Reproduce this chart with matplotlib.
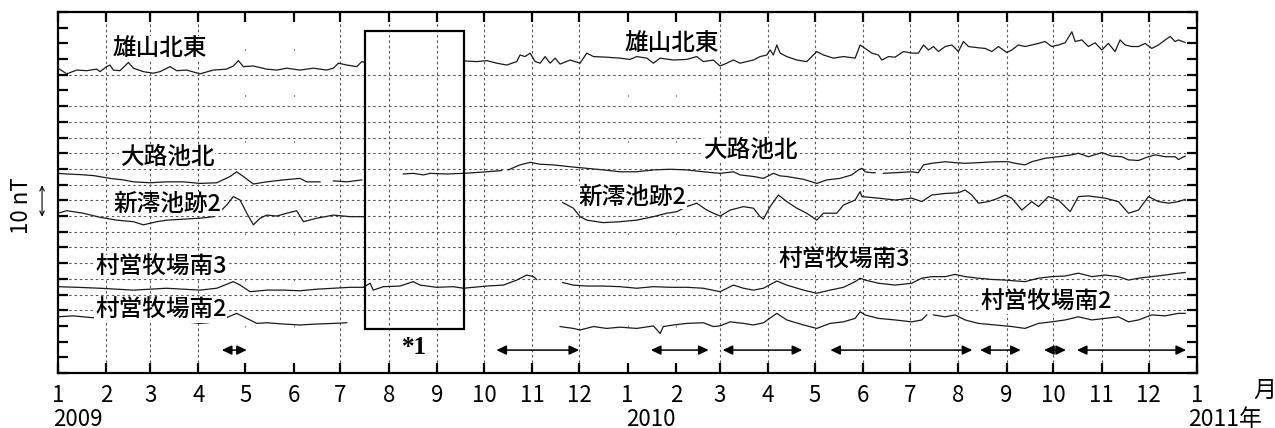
import matplotlib
matplotlib.use("Agg")
import matplotlib.pyplot as plt
import matplotlib.dates as mdates
import matplotlib.transforms as mtransforms
import numpy as np
from datetime import datetime

plt.rcParams["font.family"] = ["Noto Sans CJK JP", "DejaVu Sans"]

# ---------------------------------------------------------------------------
# Total magnetic field records (nT, plotted with a per-station offset).
# Each entry is (days since 2009-01-01, value); None marks a gap in the record.
# ---------------------------------------------------------------------------
START = datetime(2009, 1, 1)

OYAMA_NE = [  # 雄山北東
    (0, 97.1), (5.6, 95.3), (12, 96.5), (18.4, 96.3), (24.8, 96.8), (26.9, 96.0),
    (31.2, 97.6), (33.3, 98.1), (35.5, 96.5), (39.7, 96.3), (45.1, 98.9), (48.3, 97.1),
    (54.7, 96.0), (61.1, 95.5), (65.4, 96.0), (71.8, 97.6), (76.1, 96.3), (82.5, 96.5),
    (91, 95.3), (99.5, 96.5), (108, 96.8), (112.4, 97.8), (115.6, 99.5), (118.8, 97.6),
    (125.2, 97.8), (133.8, 96.8), (140.2, 96.5), (146.6, 97.1), (155.1, 96.5), (163.7, 97.1),
    (172.2, 96.5), (176.5, 97.1), (179.7, 98.7), (185.1, 98.1), (191.5, 97.6), (194.7, 99.2),
    (196.8, 98.9),
    None,
    (260.9, 99.4), (268.4, 99.2), (274.8, 99.5), (281.2, 98.7), (287.6, 98.1), (294, 99.2),
    (296.1, 101.3), (299.3, 100.8), (302.6, 101.9), (305.8, 99.2), (309, 98.7), (312.2, 100.8),
    (315.4, 98.7), (318.6, 100.3), (321.8, 98.4), (328.2, 99.7), (334.6, 98.7), (338.9, 101.9),
    (343.2, 100.8), (351.7, 100.6), (360.2, 100.3), (366.6, 99.9), (370.9, 100.8), (377.4, 100.3),
    (381.6, 98.7), (385.9, 100.3), (394.4, 99.7), (403, 99.9), (409.4, 100.8), (413.6, 99.2),
    (420, 99.7), (424.3, 97.8), (428.6, 98.7), (432.9, 99.7), (437.2, 98.7), (445.7, 99.7),
    (450, 100.8), (454.3, 101.3), (456.4, 102.9), (458.5, 101.3), (460.7, 104.5), (462.8, 101.9),
    (467.1, 100.8), (473.5, 99.7), (479.9, 99.2), (486.3, 102.4), (490.6, 101.3), (497, 100.3),
    (503.4, 100.8), (510.9, 100.3), (514.1, 104.5), (517.3, 103.4), (521.6, 101.9), (525.8, 101.3),
    (528, 99.7), (532.3, 100.8), (536.5, 100.6), (541.8, 102.4), (547.2, 101.9), (551.4, 101.9),
    (554.7, 104.5), (557.9, 102.9), (561.1, 104.0), (564.3, 102.4), (568.6, 104.0), (572.9, 104.5),
    (577.1, 102.4), (580.3, 105.6), (583.5, 104.0), (589.9, 103.6), (594.2, 103.4), (598.5, 102.4),
    (602.7, 104.0), (608.1, 102.1), (611.3, 102.9), (615.5, 104.5), (619.8, 104.0), (624.1, 104.5),
    (628.4, 105.0), (632.6, 105.6), (636.9, 104.0), (641.2, 104.5), (645.5, 105.2), (649.8, 108.7),
    (651.9, 105.6), (656.2, 106.1), (660.4, 104.0), (664.7, 105.2), (669, 102.9), (673.2, 105.0),
    (677.5, 102.4), (680.7, 106.1), (683.9, 104.5), (688.2, 104.0), (692.5, 104.0), (696.8, 105.0),
    (701, 103.4), (705.3, 104.5), (709.6, 106.1), (712.8, 107.2), (716, 105.6), (718.1, 106.1),
    (722.4, 105.3),
]

OROIKE_N = [  # 大路池北
    (0, 63.6), (5.6, 63.4), (14.1, 63.2), (22.6, 62.9), (33.3, 62.0), (41.9, 61.5),
    (48.3, 60.9), (59, 60.6), (69.7, 60.9), (80.3, 60.9), (91, 60.4), (101.7, 60.6),
    (110.3, 62.6), (114.5, 64.1), (118.8, 62.6), (125.2, 60.2), (133.8, 60.9), (144.4, 61.5),
    (155.1, 62.0), (159.4, 60.9), (168, 60.9),
    None,
    (176.5, 61.2), (185.1, 60.9), (194.7, 61.5),
    None,
    (221.3, 63.4), (227.7, 63.6), (234.2, 63.1), (238.5, 63.6), (249.2, 63.4), (259.8, 63.6),
    (266.2, 63.8), (274.8, 64.1), (284.4, 64.5),
    None,
    (288.6, 64.7), (296.1, 66.3), (302.6, 67.1), (309, 66.5), (317.5, 66.3), (328.2, 65.7),
    (338.9, 65.2), (349.5, 64.7), (360.2, 64.1), (370.9, 64.1), (381.6, 64.7), (392.3, 64.9),
    (403, 64.7), (413.6, 64.1), (424.3, 63.6), (432.9, 64.1), (437.2, 63.1), (445.7, 62.6),
    (452.1, 62.0), (458.5, 63.6), (462.8, 62.8), (467.1, 62.6), (477.8, 61.7), (486.3, 60.4),
    (492.7, 61.5), (501.3, 62.0), (508.7, 63.1), (513, 64.7), (515.2, 65.2), (517.3, 64.1),
    (521.6, 63.8), (523.7, 63.8),
    None,
    (529, 63.6), (536.5, 63.8), (547.2, 64.1), (551.4, 63.8), (554.7, 66.3), (560, 66.8),
    (568.6, 67.3), (575, 67.0), (581.4, 66.8), (589.9, 67.0), (600.6, 67.3), (609.1, 67.3),
    (613.4, 66.8), (619.8, 66.3), (624.1, 67.3), (632.6, 68.4), (641.2, 68.9), (649.8, 69.5),
    (654, 70.0), (660.4, 68.9), (669, 70.2), (675.4, 69.1), (681.8, 68.9), (686.1, 67.9),
    (692.5, 67.7), (698.9, 68.9), (703.2, 69.5), (709.6, 68.9), (716, 68.9), (718.1, 68.0),
    (722.4, 69.1),
]

SHINMIO_2 = [  # 新澪池跡2
    (0, 50.9), (5.6, 51.7), (16.2, 50.9), (26.9, 49.6), (37.6, 48.7), (48.3, 48.2),
    (54.7, 47.2), (63.3, 48.2), (69.7, 48.7), (80.3, 49.0), (91, 49.3), (99.5, 49.8),
    (103.8, 51.4), (108.1, 53.5), (112.4, 56.2), (116.7, 55.1), (121, 50.9), (125.2, 47.2),
    (129.5, 49.3), (133.8, 50.3), (140.2, 50.0), (146.6, 50.9), (153, 51.7), (157.3, 48.2),
    (165.8, 49.3), (176.5, 50.3), (187.2, 49.8), (196.8, 49.8),
    None,
    (323.5, 54.3), (330.3, 52.5), (334.6, 49.8), (338.9, 48.7), (349.5, 47.9), (360.2, 48.2),
    (370.9, 48.7), (381.6, 49.8), (390.2, 50.9), (396.6, 51.4), (403, 53.0), (409.4, 54.1),
    (415.8, 51.9), (420, 50.9), (424.3, 50.0), (430.8, 51.9), (439.3, 53.0), (445.7, 52.5),
    (450, 49.8), (452.1, 49.0), (456.4, 53.0), (461.7, 56.7), (467.1, 54.6), (473.5, 52.5),
    (479.9, 50.9), (486.3, 48.7), (490.6, 50.9), (499.1, 50.9), (503.4, 53.5), (510.9, 55.1),
    (514.1, 57.8), (515.2, 56.2), (525.8, 55.7), (536.5, 55.1), (547.2, 55.7), (553.6, 54.6),
    (560, 56.7), (568.6, 57.2), (577.1, 57.4), (581.4, 58.3), (585.7, 56.7), (589.9, 54.1),
    (596.3, 54.6), (602.7, 55.7), (607, 56.7), (611.3, 55.7), (617.7, 51.9), (624.1, 54.6),
    (628.4, 53.0), (634.8, 56.2), (641.2, 55.1), (648.7, 51.4), (654, 56.2), (660.4, 56.4),
    (671.1, 55.7), (679.6, 54.6), (686.1, 50.9), (692.5, 51.9), (698.9, 56.2), (705.3, 54.6),
    (711.7, 54.1), (718.1, 54.6), (722.4, 55.3),
]

MURAEI_S3 = [  # 村営牧場南3
    (0, 27.5), (12, 27.3), (26.9, 27.0), (48.3, 26.4), (69.7, 27.0), (91, 26.4),
    (101.7, 27.0), (112.4, 29.1), (116.7, 28.0), (123.1, 25.9), (133.8, 26.4), (144.4, 26.4),
    (155.1, 26.2), (165.8, 26.7), (176.5, 27.0), (187.2, 27.3), (195.7, 27.3), (200, 28.6),
    (202.1, 26.4), (208.5, 27.5), (219.2, 27.7), (227.7, 29.1), (232, 28.0), (242.7, 27.3),
    (253.4, 27.5), (259.8, 27.0), (274.8, 27.7), (285.4, 28.0), (294, 29.6), (300.4, 31.2),
    (304.7, 30.7), (306.8, 29.8),
    None,
    (323.5, 28.8), (330.3, 28.0), (338.9, 27.7), (349.5, 27.7), (360.2, 27.5), (370.9, 27.0),
    (381.6, 27.5), (392.3, 27.3), (403, 27.3), (413.6, 27.0), (424.3, 25.9), (432.9, 28.0),
    (439.3, 27.0), (445.7, 26.4), (452.1, 27.0), (460.7, 29.3), (467.1, 28.0), (477.8, 26.4),
    (486.3, 25.4), (494.8, 26.4), (503.4, 27.3), (510.9, 29.1), (514.1, 30.2), (517.3, 29.6),
    (525.8, 28.6), (536.5, 28.0), (547.2, 28.6), (553.6, 30.2), (560, 30.7), (568.6, 30.7),
    (575, 31.4), (581.4, 30.7), (589.9, 30.2), (598.5, 29.8), (607, 29.6), (619.8, 29.1),
    (628.4, 30.2), (636.9, 30.7), (645.5, 30.9), (654, 31.8), (662.6, 30.7), (671.1, 31.2),
    (679.6, 30.7), (686.1, 29.6), (692.5, 30.2), (701, 30.7), (709.6, 31.2), (718.1, 31.8),
    (722.4, 32.0),
]

MURAEI_S2 = [  # 村営牧場南2
    (0, 17.9), (9.8, 18.2), (26.9, 17.4), (48.3, 16.3), (69.7, 16.9), (91, 15.8),
    (101.7, 16.3), (114.5, 19.0), (121, 17.4), (127.4, 15.8), (133.8, 16.0), (144.4, 15.6),
    (155.1, 15.3), (165.8, 15.6), (176.5, 15.8), (185.1, 16.0),
    None,
    (321.8, 14.8), (330.3, 14.2), (334.6, 13.7), (343.2, 14.8), (351.7, 14.2), (360.2, 14.6),
    (370.9, 14.2), (381.6, 15.0), (385.9, 12.6), (388, 14.8), (394.4, 15.3), (403, 15.8),
    (413.6, 16.0), (420, 14.8), (424.3, 15.0), (430.8, 16.3), (439.3, 15.8), (445.7, 15.3),
    (452.1, 16.0), (460.7, 19.0), (467.1, 16.9), (477.8, 15.3), (486.3, 14.2), (494.8, 15.8),
    (503.4, 16.3), (510.9, 17.4), (514.1, 19.5), (517.3, 18.5), (525.8, 17.4), (536.5, 16.9),
    (547.2, 16.3), (553.6, 16.9), (556.8, 18.5),
    None,
    (561.1, 18.5), (568.6, 17.9), (575, 18.5), (581.4, 16.9), (589.9, 15.8), (600.6, 15.3),
    (611.3, 14.8), (619.8, 14.2), (628.4, 15.8), (636.9, 16.3), (645.5, 16.9), (654, 17.9),
    (662.6, 16.9), (671.1, 17.4), (679.6, 17.9), (686.1, 16.3), (692.5, 16.9), (701, 18.5),
    (709.6, 18.2), (718.1, 19.0), (722.4, 19.0),
]

# Periods marked with double-headed arrows below the records
ARROW_PERIODS = [
    ("2009-04-16", "2009-05-02"),
    ("2009-10-09", "2009-12-01"),
    ("2010-01-16", "2010-02-22"),
    ("2010-03-03", "2010-04-23"),
    ("2010-05-11", "2010-08-10"),
    ("2010-08-15", "2010-09-10"),
    ("2010-09-25", "2010-10-09"),
    ("2010-10-16", "2010-12-25"),
]

# Interval excluded from the evaluation (*1)
EXCLUDED_PERIOD = ("2009-07-17", "2009-09-18")

STATION_LABELS = ["雄山北東", "大路池北", "新澪池跡2", "村営牧場南3", "村営牧場南2"]

# ---------------------------------------------------------------------------
base = mdates.date2num(START)


def to_xy(records):
    xs, ys = [], []
    for rec in records:
        if rec is None:
            xs.append(np.nan)
            ys.append(np.nan)
        else:
            xs.append(base + rec[0])
            ys.append(rec[1])
    return np.array(xs), np.array(ys)


def dnum(s):
    return mdates.date2num(datetime.strptime(s, "%Y-%m-%d"))


fig = plt.figure(figsize=(12.75, 4.28), dpi=100)
ax = fig.add_axes([58 / 1275, 55 / 428, 1139 / 1275, 361 / 428])

x0, x1 = base, mdates.date2num(datetime(2011, 1, 1))
ax.set_xlim(x0, x1)
ax.set_ylim(0, 115)

# month ticks
month_starts = [datetime(2009 + i // 12, i % 12 + 1, 1) for i in range(25)]
month_nums = [mdates.date2num(d) for d in month_starts]
ax.set_xticks(month_nums)
ax.set_xticklabels([str(d.month) for d in month_starts], fontsize=16)
ax.set_yticks(np.arange(0, 116, 5))
ax.set_yticklabels([])
ax.tick_params(axis="both", direction="in", top=True, right=True,
               length=7, width=1.6, color="black")
ax.tick_params(axis="x", pad=8)
for sp in ax.spines.values():
    sp.set_linewidth(1.6)

# dotted grid
grid_style = dict(color="#555555", lw=0.8, ls=(0, (2.2, 2.6)), zorder=0)
for k in [4, 5, 6, 7, 8, 9, 10, 11, 12, 13, 14, 15, 16, 17, 19]:
    ax.axhline(k * 5, **grid_style)
faint_months = {(2009, 5), (2009, 6), (2010, 1), (2010, 2)}
for d, xn in zip(month_starts[1:-1], month_nums[1:-1]):
    if (d.year, d.month) in faint_months:
        ax.axvline(xn, color="#777777", lw=0.8, ls=(0, (1.5, 40)), zorder=0)
    else:
        ax.axvline(xn, **grid_style)

# records
for rec in [OYAMA_NE, OROIKE_N, SHINMIO_2, MURAEI_S3, MURAEI_S2]:
    xs, ys = to_xy(rec)
    ax.plot(xs, ys, color="#1a1a1a", lw=0.9, zorder=3)

# station names (left and right halves)
label_pos = [
    [(35.3, 103.5), (363.4, 105.1)],
    [(39.7, 68.8), (413.4, 71.0)],
    [(35.3, 53.8), (333.3, 56.1)],
    [(23.7, 33.8), (461.5, 36.0)],
    [(23.7, 19.8), (591.0, 22.6)],
]
for name, positions in zip(STATION_LABELS, label_pos):
    for dx, yv in positions:
        ax.text(base + dx, yv, name, fontsize=17, fontweight="medium",
                ha="left", va="center", zorder=4,
                bbox=dict(facecolor="white", edgecolor="none", pad=0.5))

# excluded interval box
ex0, ex1 = dnum(EXCLUDED_PERIOD[0]), dnum(EXCLUDED_PERIOD[1])
ax.add_patch(plt.Rectangle((ex0, 14.0), ex1 - ex0, 95.0, fill=False,
                           edgecolor="black", lw=1.6, zorder=5))
ax.text((ex0 + ex1) / 2, 8.0, "*1", fontsize=18, family="Liberation Serif",
        fontweight="bold", ha="center", va="center", zorder=5)

# observation period arrows
for a, b in ARROW_PERIODS:
    ax.annotate("", xy=(dnum(b), 7.3), xytext=(dnum(a), 7.3),
                arrowprops=dict(arrowstyle="<|-|>,head_length=0.42,head_width=0.2",
                                color="black", lw=1.1, shrinkA=0, shrinkB=0,
                                mutation_scale=14),
                zorder=5)

# year labels under the month numbers
trans = mtransforms.blended_transform_factory(ax.transData, ax.transAxes)
year_off = -46 / 361
ax.text(mdates.date2num(datetime(2009, 1, 1)) - 3, year_off, "2009", transform=trans,
        fontsize=16, ha="left", va="center")
ax.text(mdates.date2num(datetime(2010, 1, 1)) - 1, year_off, "2010", transform=trans,
        fontsize=16, ha="left", va="center")
ax.text(mdates.date2num(datetime(2011, 1, 1)) - 6, year_off, "2011年",
        transform=trans, fontsize=16.5, ha="left", va="center")
ax.text(mdates.date2num(datetime(2011, 1, 1)) + 36, -17 / 361, "月",
        transform=trans, fontsize=16.5, ha="left", va="center")

# scale bar: 10 nT
fig.text(22 / 1275, 1 - 206 / 428, "10 nT", rotation=90, fontsize=16,
         ha="center", va="center")
ax.annotate("", xy=(-0.014, 59.8), xytext=(-0.014, 49.8),
            xycoords=("axes fraction", "data"),
            arrowprops=dict(arrowstyle="<->", lw=0.8, color="black",
                            shrinkA=0, shrinkB=0, mutation_scale=8),
            annotation_clip=False)

fig.savefig("out.png", dpi=100)
